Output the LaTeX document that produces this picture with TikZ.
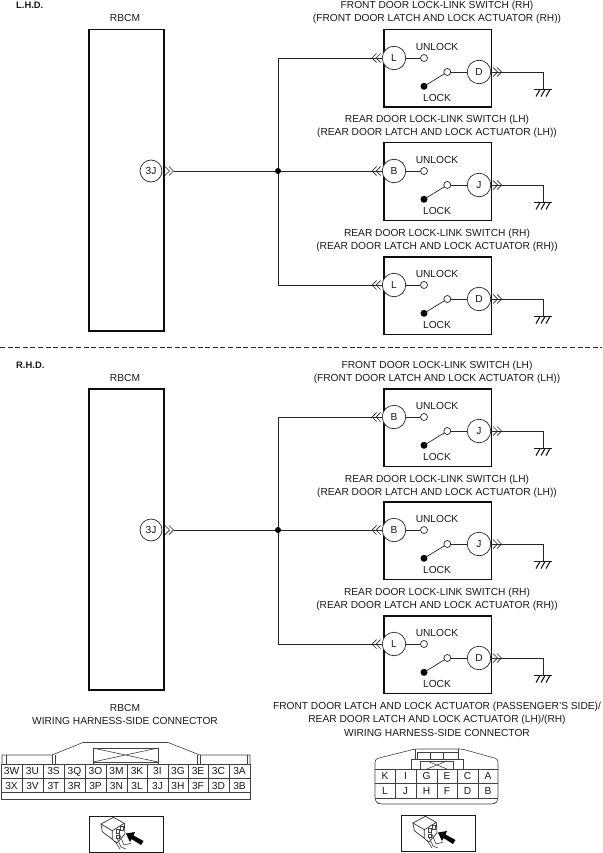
\documentclass[tikz,border=0pt]{standalone}
\usepackage{fontspec}
\setmainfont{Liberation Sans}
\begin{document}
\begin{tikzpicture}[x=1pt,y=-1pt,
  every node/.style={font=\fontsize{10.2}{11}\selectfont,inner sep=0pt,text=black!90},
  txt/.style={anchor=center,text height=7.2pt,text depth=0pt},
  wire/.style={line width=0.7pt,draw=black!85},
  pinc/.style={circle,draw=black!85,line width=0.7pt,minimum size=23.5pt,fill=white},
  smallc/.style={circle,draw=black!85,line width=0.7pt,minimum size=7pt,fill=white},
  blackdot/.style={circle,fill=black,minimum size=7pt},
  junction/.style={circle,fill=black,minimum size=6pt},
  thin line/.style={line width=0.6pt,draw=black!75}
]
\useasboundingbox (0,0) rectangle (602,853);

\newcommand{\chevR}[2]{\draw[wire] (#1,#2-4.5) -- (#1+4.5,#2) -- (#1,#2+4.5) (#1+4,#2-4.5) -- (#1+8.5,#2) -- (#1+4,#2+4.5);}
\newcommand{\chevL}[2]{\draw[wire] (#1+4.5,#2-4.5) -- (#1,#2) -- (#1+4.5,#2+4.5) (#1+8.5,#2-4.5) -- (#1+4,#2) -- (#1+8.5,#2+4.5);}

\newcommand{\swbox}[5]{%
  \pgfmathsetmacro{\ya}{#2+29}\pgfmathsetmacro{\yb}{#2+43}\pgfmathsetmacro{\yd}{#2+57.3}
  \pgfmathsetmacro{\yu}{#2+17.7}\pgfmathsetmacro{\yl}{#2+69.3}\pgfmathsetmacro{\yg}{#2+60.5}
  \draw[wire] (#5) |- (383,\ya);
  \node[draw=black!95,line width=1.5pt,anchor=north west,minimum width=107.5pt,minimum height=77.5pt,fill=white] (#1box) at (383,#2) {};
  \node[pinc] (#1L) at (394,\ya) {#3};
  \node[smallc] (#1U) at (424,\ya) {};
  \node[smallc] (#1S) at (447.3,\yb) {};
  \node[pinc] (#1R) at (479,\yb) {#4};
  \node[blackdot] (#1K) at (424,\yd) {};
  \node[txt] (#1ut) at (437,\yu) {UNLOCK};
  \node[txt] (#1lt) at (437,\yl) {LOCK};
  \coordinate (#1G) at (543,\yg);
  \draw[wire] (#1L) -- (#1U);
  \draw[wire] (#1S) -- (#1R);
  \draw[wire] (#1K.center) -- (#1S);
  \draw[wire] (#1R) -| (#1G);
  \chevL{372}{\ya}
  \chevR{493}{\yb}
  \draw[line width=1.3pt,draw=black!90] (534,\yg) -- (552,\yg);
  \draw[line width=1.1pt,draw=black!90] (540,\yg) -- (536,\yg+7) (545,\yg) -- (541,\yg+7) (550,\yg) -- (546,\yg+7);
}
\newcommand{\ttl}[4]{\node[txt] (#1a) at (437,#2+.3) {#3}; \node[txt] (#1b) at (437,#2+13.3) {#4};}
\newcommand{\viewicon}[3]{%
  \node[draw=black!90,line width=0.9pt,anchor=north west,minimum width=74pt,minimum height=35.5pt,fill=white] (#1) at (#2,#3) {};
  \begin{scope}[shift={(#2,#3)}]
    \draw[line width=0.7pt,draw=black!80,fill=white] (12,8) -- (24.3,1.3) -- (35.3,7.3) -- (23.3,14.7) -- cycle;
    \draw[line width=0.7pt,draw=black!80] (12,8) -- (13.3,15.7) -- (23.3,23.3) -- (23.3,14.7);
    \draw[line width=0.7pt,draw=black!80] (35.3,7.3) -- (36,18) -- (27.7,27.3) -- (23.3,23.3);
    \draw[thin line] (27,13) rectangle (30,17) (31,10.5) rectangle (34,14.5) (27,19) rectangle (30,22);
    \draw[thin line] (28,22) -- (32,31) -- (37,33) (30,17) -- (35,29) -- (42,27.3) (26,25) -- (31,33);
    \fill[black] (54.5,25) -- (44.5,19.5) -- (46,16) -- (37,17.5) -- (41,26) -- (42.5,23) -- (52,29) -- cycle;
  \end{scope}
}

\node[anchor=west,font=\fontsize{9.4}{10}\selectfont\bfseries] (lhd) at (16,5) {L.H.D.};
\node[anchor=west,font=\fontsize{9.4}{10}\selectfont\bfseries] (rhd) at (16,365) {R.H.D.};
\coordinate (dl) at (0,347); \coordinate (dr) at (602,347);
\draw[wire,dash pattern=on 5pt off 2.6pt] (dl) -- (dr);

% ---- L.H.D.
\node[txt] (rbcm1) at (125,18.3) {RBCM};
\node[draw=black!95,line width=1.5pt,anchor=north west,minimum width=75pt,minimum height=301pt] (mod1) at (88,29) {};
\node[smallc,minimum size=22pt] (j1) at (151,171) {3J};
\coordinate (n1) at (278,171);
\draw[wire] (174,171) -- (n1);
\chevR{165}{171}
\ttl{t1}{5}{FRONT DOOR LOCK-LINK SWITCH (RH)}{(FRONT DOOR LATCH AND LOCK ACTUATOR (RH))}
\ttl{t2}{119}{REAR DOOR LOCK-LINK SWITCH (LH)}{(REAR DOOR LATCH AND LOCK ACTUATOR (LH))}
\ttl{t3}{233}{REAR DOOR LOCK-LINK SWITCH (RH)}{(REAR DOOR LATCH AND LOCK ACTUATOR (RH))}
\swbox{a}{29}{L}{D}{n1}
\swbox{b}{142}{B}{J}{n1}
\swbox{c}{256}{L}{D}{n1}
\node[junction] (n1d) at (n1) {};

% ---- R.H.D.
\node[txt] (rbcm2) at (125,378.3) {RBCM};
\node[draw=black!95,line width=1.5pt,anchor=north west,minimum width=75pt,minimum height=301pt] (mod2) at (88,388) {};
\node[smallc,minimum size=22pt] (j2) at (151,530) {3J};
\coordinate (n2) at (278,530);
\draw[wire] (174,530) -- (n2);
\chevR{165}{530}
\ttl{t4}{365}{FRONT DOOR LOCK-LINK SWITCH (LH)}{(FRONT DOOR LATCH AND LOCK ACTUATOR (LH))}
\ttl{t5}{479}{REAR DOOR LOCK-LINK SWITCH (LH)}{(REAR DOOR LATCH AND LOCK ACTUATOR (LH))}
\ttl{t6}{592}{REAR DOOR LOCK-LINK SWITCH (RH)}{(REAR DOOR LATCH AND LOCK ACTUATOR (RH))}
\swbox{d}{388}{B}{J}{n2}
\swbox{e}{501}{B}{J}{n2}
\swbox{f}{615}{L}{D}{n2}
\node[junction] (n2d) at (n2) {};

% ---- captions
\node[txt] (cap1) at (125,708.3) {RBCM};
\node[txt] (cap2) at (125,721.3) {WIRING HARNESS-SIDE CONNECTOR};
\node[txt] (cap3) at (437,706.3) {FRONT DOOR LATCH AND LOCK ACTUATOR (PASSENGER'S SIDE)/};
\node[txt] (cap4) at (437,719.3) {REAR DOOR LATCH AND LOCK ACTUATOR (LH)/(RH)};
\node[txt] (cap5) at (437,733.3) {WIRING HARNESS-SIDE CONNECTOR};

% ---- RBCM connector
\draw[thin line] (1,764) rectangle (250,799);
\draw[thin line] (1,778) -- (250,778) (1,792) -- (250,792);
\foreach \x in {22,43,64,85,106,127,147,168,188,208,229} \draw[thin line] (\x,764) -- (\x,792);
\draw[thin line] (2,764) -- (2,755) -- (52,755) -- (83,742.5) -- (168,742.5) -- (200,755) -- (250,755) -- (250,764);
\draw[thin line] (6,755) -- (6,764) (52,755) -- (52,764) (55,755) -- (55,764) (197,755) -- (197,764) (200,755) -- (200,764) (247,755) -- (247,764);
\draw[thin line] (93,748) rectangle (158,762);
\draw[thin line] (93,748) -- (158,762) (158,748) -- (93,762);
\draw[thin line] (93,762) -- (93,764) (158,762) -- (158,764);
\foreach \t/\x/\y in {3W/11.5/771,3U/32.5/771,3S/53.5/771,3Q/74.5/771,3O/95.5/771,3M/116.5/771,3K/137/771,3I/157.5/771,3G/178/771,3E/198/771,3C/218.5/771,3A/239.5/771,
  3X/11.5/785.5,3V/32.5/785.5,3T/53.5/785.5,3R/74.5/785.5,3P/95.5/785.5,3N/116.5/785.5,3L/137/785.5,3J/157.5/785.5,3H/178/785.5,3F/198/785.5,3D/218.5/785.5,3B/239.5/785.5}
  \node[txt] (p\t) at (\x,\y) {\t};
\viewicon{v1}{89}{816}

% ---- door connector
\draw[thin line,rounded corners=3pt] (375,769) -- (375,759) -- (415,749) -- (462,749) -- (498,759) -- (498,769);
\draw[thin line,rounded corners=3pt] (375,769) -- (375,801) -- (379,804) -- (494,804) -- (498,801) -- (498,769);
\draw[thin line] (375,769) -- (498,769) (375,783) -- (498,783) (375,798) -- (498,798);
\foreach \x in {395,416,437,457,478} \draw[thin line] (\x,769) -- (\x,798);
\draw[thin line] (411,769) -- (411,759) -- (463,759) -- (463,769);
\draw[thin line] (420,769) -- (420,761) -- (453,761) -- (453,769);
\draw[thin line] (427,761) -- (447,769) (447,761) -- (427,769);
\draw[thin line] (415,749) -- (415,759) (417,752) -- (417,759) (430,752) -- (430,759) (443,752) -- (443,759) (458,749) -- (458,759) (417,752) -- (458,752);
\foreach \t/\x/\y in {K/385/776,I/405.5/776,G/426.5/776,E/447/776,C/467.5/776,A/488/776,
  L/385/791,J/405.5/791,H/426.5/791,F/447/791,D/467.5/791,B/488/791}
  \node[txt] (q\t) at (\x,\y) {\t};
\viewicon{v2}{401}{815}
\end{tikzpicture}
\end{document}
